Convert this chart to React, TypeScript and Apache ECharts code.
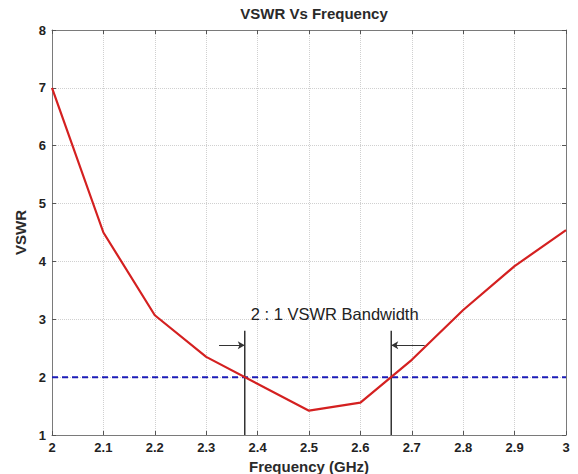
import React, { useEffect, useRef } from "react";
import * as echarts from "echarts";

// Measured VSWR against frequency
const freqGHz = [2.0, 2.1, 2.2, 2.3, 2.5, 2.6, 2.7, 2.8, 2.9, 3.0];
const vswr = [7.0, 4.5, 3.07, 2.35, 1.42, 1.56, 2.3, 3.16, 3.92, 4.54];

// 2:1 bandwidth edges and reference level
const bandEdges = [2.375, 2.66];
const refLevel = 2;
const markerTop = 2.8;
const arrowLevel = 2.55;

const xTicks = [2, 2.1, 2.2, 2.3, 2.4, 2.5, 2.6, 2.7, 2.8, 2.9, 3];
const yTicks = [1, 2, 3, 4, 5, 6, 7, 8];

const FONT = "Liberation Sans, Arial, sans-serif";

export default function App() {
  const ref = useRef<HTMLDivElement>(null);

  useEffect(() => {
    if (!ref.current) return;
    const chart = echarts.init(ref.current, undefined, { renderer: "svg" });

    const axisCommon = {
      axisLine: { show: true, lineStyle: { color: "#7a7a7a", width: 1 } },
      axisTick: { show: true, inside: true, length: 4, lineStyle: { color: "#555" } },
    };

    const edgeLines = bandEdges.map((x) => ({
      type: "line",
      data: [
        [x, 1],
        [x, markerTop],
      ],
      symbol: "none",
      lineStyle: { color: "#333", width: 1.5 },
      z: 4,
    }));

    chart.setOption({
      animation: false,
      backgroundColor: "#fff",
      title: {
        text: "VSWR Vs Frequency",
        left: 309,
        textAlign: "center",
        top: 1,
        textStyle: { fontFamily: FONT, fontSize: 15, fontWeight: "bold", color: "#2a2a2a" },
      },
      grid: {
        left: 52,
        right: 12,
        top: 30,
        bottom: 39,
        show: false,
        containLabel: false,
        outerBoundsMode: "none",
      },
      xAxis: [
        {
          type: "value",
          min: 2,
          max: 3,
          interval: 0.1,
          name: "Frequency (GHz)",
          nameLocation: "middle",
          nameGap: 17,
          nameTextStyle: { fontFamily: FONT, fontSize: 15, fontWeight: "bold", color: "#2a2a2a" },
          ...axisCommon,
          axisLabel: {
            fontFamily: FONT,
            fontSize: 13,
            fontWeight: "bold",
            color: "#222",
            margin: 6,
            formatter: (v: number) => {
              const t = xTicks.find((k) => Math.abs(k - v) < 1e-6);
              return t === undefined ? "" : String(t);
            },
          },
          splitLine: { show: true, lineStyle: { color: "#d0d0d0", type: "dotted", width: 1 } },
        },
        {
          type: "value",
          position: "top",
          min: 2,
          max: 3,
          interval: 0.1,
          ...axisCommon,
          axisLabel: { show: false },
          splitLine: { show: false },
        },
      ],
      yAxis: [
        {
          type: "value",
          min: 1,
          max: 8,
          interval: 1,
          name: "VSWR",
          nameLocation: "middle",
          nameGap: 18,
          nameTextStyle: { fontFamily: FONT, fontSize: 15, fontWeight: "bold", color: "#2a2a2a" },
          ...axisCommon,
          axisLabel: {
            fontFamily: FONT,
            fontSize: 13,
            fontWeight: "bold",
            color: "#222",
            margin: 6,
            formatter: (v: number) => (yTicks.includes(v) ? String(v) : ""),
          },
          splitLine: { show: true, lineStyle: { color: "#d0d0d0", type: "dotted", width: 1 } },
        },
        {
          type: "value",
          position: "right",
          min: 1,
          max: 8,
          interval: 1,
          ...axisCommon,
          axisLabel: { show: false },
          splitLine: { show: false },
        },
      ],
      series: [
        {
          type: "line",
          data: [
            [2, refLevel],
            [3, refLevel],
          ],
          symbol: "none",
          lineStyle: { color: "#1c1cb8", width: 2, type: [6, 4] },
          z: 3,
        },
        ...edgeLines,
        {
          type: "line",
          data: freqGHz.map((f, i) => [f, vswr[i]]),
          symbol: "none",
          lineStyle: { color: "#d42020", width: 2.2 },
          z: 5,
          markLine: {
            silent: true,
            symbol: ["none", "arrow"],
            symbolSize: [6, 7],
            label: { show: false },
            lineStyle: { color: "#333", width: 1, type: "solid" },
            data: [
              [{ coord: [bandEdges[0] - 0.05, arrowLevel] }, { coord: [bandEdges[0], arrowLevel] }],
              [{ coord: [bandEdges[1] + 0.065, arrowLevel] }, { coord: [bandEdges[1], arrowLevel] }],
            ],
          },
          markPoint: {
            silent: true,
            symbol: "rect",
            symbolSize: [1, 1],
            itemStyle: { color: "rgba(0,0,0,0)" },
            label: {
              show: true,
              formatter: "2 : 1 VSWR Bandwidth",
              fontFamily: FONT,
              fontSize: 16.5,
              color: "#222",
              position: "inside",
            },
            data: [{ coord: [2.55, 3.1] }],
          },
        },
      ],
    });

    return () => chart.dispose();
  }, []);

  return (
    <div
      ref={ref}
      style={{ position: "absolute", left: 0, top: 0, width: 578, height: 474 }}
    />
  );
}
